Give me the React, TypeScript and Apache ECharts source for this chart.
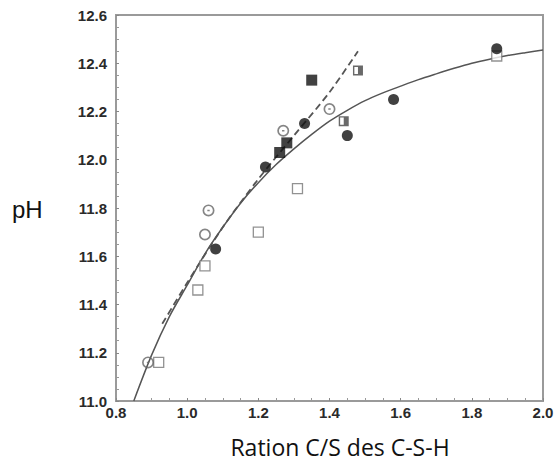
import React, { useEffect, useRef } from "react";
import * as echarts from "echarts";

// Tick labels / axis settings
const xTicks = [0.8, 1.0, 1.2, 1.4, 1.6, 1.8, 2.0];
const yTicks = [11.0, 11.2, 11.4, 11.6, 11.8, 12.0, 12.2, 12.4, 12.6];

// Series values [C/S, pH]
const filledCircles = [
  [1.08, 11.63],
  [1.22, 11.97],
  [1.33, 12.15],
  [1.45, 12.1],
  [1.58, 12.25],
  [1.87, 12.46],
];
const filledSquares = [
  [1.26, 12.03],
  [1.28, 12.07],
  [1.35, 12.33],
];
const openSquares = [
  [0.92, 11.16],
  [1.03, 11.46],
  [1.05, 11.56],
  [1.2, 11.7],
  [1.31, 11.88],
  [1.87, 12.43],
];
const halfSquares = [
  [1.44, 12.16],
  [1.48, 12.37],
];
const dotCircles = [
  [0.89, 11.16],
  [1.06, 11.79],
  [1.27, 12.12],
  [1.4, 12.21],
];
const openCircles = [[1.05, 11.69]];
const fitCurve = [
  [0.85, 11.0],
  [0.9, 11.19],
  [0.95, 11.35],
  [1.0, 11.48],
  [1.05, 11.61],
  [1.1, 11.72],
  [1.15, 11.82],
  [1.2, 11.905],
  [1.25, 11.98],
  [1.3, 12.045],
  [1.35, 12.105],
  [1.4, 12.16],
  [1.45, 12.205],
  [1.5, 12.245],
  [1.55, 12.277],
  [1.6, 12.305],
  [1.65, 12.332],
  [1.7, 12.356],
  [1.75, 12.379],
  [1.8, 12.4],
  [1.85, 12.417],
  [1.9, 12.432],
  [1.95, 12.444],
  [2.0, 12.455],
];
const dashedFit = [
  [0.93, 11.32],
  [1.0, 11.49],
  [1.1, 11.72],
  [1.2, 11.92],
  [1.3, 12.1],
  [1.4, 12.28],
  [1.48, 12.45],
];

const xName = "Ration C/S des C-S-H";
const yName = "pH";

const ringDot =
  "path://M5,0 A5,5 0 1,1 5,10 A5,5 0 1,1 5,0 Z M5,1.4 A3.6,3.6 0 1,0 5,8.6 A3.6,3.6 0 1,0 5,1.4 Z M4,4.4 L6,4.4 L6,5.6 L4,5.6 Z";
const ring =
  "path://M5,0 A5,5 0 1,1 5,10 A5,5 0 1,1 5,0 Z M5,1.4 A3.6,3.6 0 1,0 5,8.6 A3.6,3.6 0 1,0 5,1.4 Z";
const halfSq =
  "path://M0,0 L10,0 L10,10 L0,10 Z M1.4,1.4 L1.4,8.6 L8.6,8.6 L8.6,1.4 Z M5,1.4 L8.6,1.4 L8.6,8.6 L5,8.6 Z";

export default function App() {
  const ref = useRef<HTMLDivElement>(null);
  useEffect(() => {
    if (!ref.current) return;
    const chart = echarts.init(ref.current, null, { renderer: "svg" });
    const labelStyle = {
      fontFamily: "Liberation Sans, Arial, sans-serif",
      fontWeight: "bold" as const,
      fontSize: 15,
      color: "#2a2a2a",
    };
    const axisLine = { show: true, lineStyle: { color: "#9a9a9a", width: 2 } };
    chart.setOption({
      animation: false,
      backgroundColor: "#fff",
      grid: {
        left: 116,
        right: 16,
        top: 15,
        bottom: 67,
        show: true,
        borderColor: "#9a9a9a",
        borderWidth: 2,
        backgroundColor: "transparent",
      },
      xAxis: {
        type: "value",
        min: xTicks[0],
        max: xTicks[xTicks.length - 1],
        interval: 0.2,
        axisLine,
        axisTick: { show: true, inside: true, length: 3, lineStyle: { color: "#888" } },
        minorTick: { show: true, splitNumber: 4, length: 3, lineStyle: { color: "#999" } },
        splitLine: { show: false },
        axisLabel: { ...labelStyle, margin: 4, formatter: (v: number) => v.toFixed(1) },
      },
      yAxis: {
        type: "value",
        min: yTicks[0],
        max: yTicks[yTicks.length - 1],
        interval: 0.2,
        axisLine,
        axisTick: { show: true, inside: true, length: 3, lineStyle: { color: "#888" } },
        minorTick: { show: true, splitNumber: 4, length: 3, lineStyle: { color: "#999" } },
        splitLine: { show: false },
        axisLabel: { ...labelStyle, margin: 9, formatter: (v: number) => v.toFixed(1) },
      },
      graphic: [
        {
          type: "text",
          x: 12,
          y: 221,
          style: {
            text: yName,
            fontFamily: "Liberation Sans, Arial, sans-serif",
            fontSize: 24,
            fill: "#111",
            verticalAlign: "bottom",
          },
        },
        {
          type: "text",
          x: 340,
          y: 447,
          style: {
            text: xName,
            fontFamily: "Open Sans, Noto Sans, sans-serif",
            fontSize: 23,
            fill: "#111",
            align: "center",
            verticalAlign: "middle",
          },
        },
      ],
      series: [
        {
          type: "line",
          data: fitCurve,
          smooth: 0.3,
          symbol: "none",
          lineStyle: { color: "#555", width: 1.5 },
          z: 1,
        },
        {
          type: "line",
          data: dashedFit,
          smooth: 0.3,
          symbol: "none",
          lineStyle: { color: "#555", width: 1.8, type: [7, 4] },
          z: 1,
        },
        {
          type: "scatter",
          data: openSquares,
          symbol: "rect",
          symbolSize: 10,
          itemStyle: { color: "#fff", borderColor: "#777", borderWidth: 1.3 },
          z: 3,
        },
        {
          type: "scatter",
          data: halfSquares,
          symbol: halfSq,
          symbolSize: 10,
          itemStyle: { color: "#444" },
          z: 3,
        },
        {
          type: "scatter",
          data: dotCircles,
          symbol: ringDot,
          symbolSize: 12,
          itemStyle: { color: "#666" },
          z: 3,
        },
        {
          type: "scatter",
          data: openCircles,
          symbol: ring,
          symbolSize: 12,
          itemStyle: { color: "#666" },
          z: 3,
        },
        {
          type: "scatter",
          data: filledSquares,
          symbol: "rect",
          symbolSize: 11,
          itemStyle: { color: "#111" },
          z: 4,
        },
        {
          type: "scatter",
          data: filledCircles,
          symbol: "circle",
          symbolSize: 11,
          itemStyle: { color: "#111" },
          z: 4,
        },
      ],
    });
    return () => chart.dispose();
  }, []);
  return (
    <div
      ref={ref}
      style={{ position: "fixed", left: 0, top: 0, width: 559, height: 468 }}
    />
  );
}
